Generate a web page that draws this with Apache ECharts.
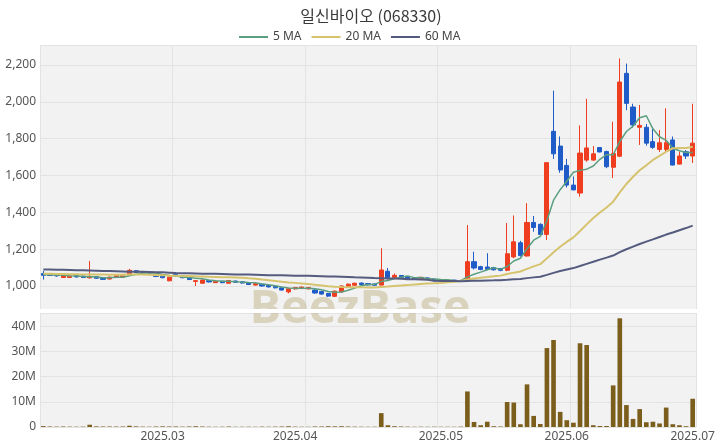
<!DOCTYPE html>
<html><head><meta charset="utf-8">
<script src="https://cdn.jsdelivr.net/npm/echarts@6/dist/echarts.min.js"></script>
<style>html,body{margin:0;padding:0;background:#fff}#c{width:720px;height:448px}</style>
</head><body><div id="c"></div>
<script>
const dates = [
'2025-02-05','2025-02-06','2025-02-07','2025-02-10','2025-02-11','2025-02-12','2025-02-13','2025-02-14','2025-02-17','2025-02-18','2025-02-19','2025-02-20','2025-02-21','2025-02-24','2025-02-25','2025-02-26','2025-02-27','2025-02-28',
'2025-03-04','2025-03-05','2025-03-06','2025-03-07','2025-03-10','2025-03-11','2025-03-12','2025-03-13','2025-03-14','2025-03-17','2025-03-18','2025-03-19','2025-03-20','2025-03-21','2025-03-24','2025-03-25','2025-03-26','2025-03-27','2025-03-28','2025-03-31',
'2025-04-01','2025-04-02','2025-04-03','2025-04-04','2025-04-07','2025-04-08','2025-04-09','2025-04-10','2025-04-11','2025-04-14','2025-04-15','2025-04-16','2025-04-17','2025-04-18','2025-04-21','2025-04-22','2025-04-23','2025-04-24','2025-04-25','2025-04-28','2025-04-29','2025-04-30',
'2025-05-02','2025-05-07','2025-05-08','2025-05-09','2025-05-12','2025-05-13','2025-05-14','2025-05-15','2025-05-16','2025-05-19','2025-05-20','2025-05-21','2025-05-22','2025-05-23','2025-05-26','2025-05-27','2025-05-28','2025-05-29','2025-05-30',
'2025-06-02','2025-06-04','2025-06-05','2025-06-09','2025-06-10','2025-06-11','2025-06-12','2025-06-13','2025-06-16','2025-06-17','2025-06-18','2025-06-19','2025-06-20','2025-06-23','2025-06-24','2025-06-25','2025-06-26','2025-06-27','2025-06-30',
'2025-07-01'];

const opens = [1068,1065,1063,1046,1046,1057,1054,1044,1051,1046,1038,1047,1047,1060,1083,1078,1076,1061,
1055,1028,1062,1053,1043,1025,1015,1029,1018,1026,1015,1027,1023,1017,1005,1010,1003,998,990,968,
984,986,984,978,970,960,944,968,998,1004,1016,1013,1011,1005,1080,1047,1057,1050,1044,1039,1044,1037,
1034,1024,1032,1025,1033,1132,1105,1103,1100,1095,1085,1158,1235,1163,1345,1335,1280,1840,1760,
1655,1548,1505,1684,1684,1752,1730,1645,1705,2155,1972,1862,1862,1784,1742,1742,1793,1662,1729,
1706];
const closes = [1058,1057,1055,1054,1053,1049,1046,1052,1042,1036,1048,1056,1055,1085,1074,1073,1070,1052,
1045,1048,1056,1045,1035,1029,1032,1022,1026,1018,1030,1020,1016,1008,1012,1000,995,990,978,985,
992,994,992,962,956,945,972,1000,1010,1015,1008,1006,1004,1087,1045,1058,1045,1040,1038,1047,1035,1028,
1028,1030,1027,1030,1132,1098,1090,1090,1088,1085,1175,1240,1165,1345,1318,1280,1670,1718,1630,
1548,1522,1722,1750,1718,1728,1648,1720,2108,1992,1875,1872,1776,1753,1778,1778,1657,1706,1706,
1776];
const lows = [1035,1054,1051,1044,1044,1046,1043,1041,1039,1033,1035,1045,1046,1058,1070,1070,1066,1048,
1042,1026,1052,1042,1032,1000,1012,1019,1016,1015,1013,1017,1013,1005,1002,997,992,987,975,960,
981,984,982,958,952,940,940,965,995,1002,1005,1003,1001,1003,1035,1044,1040,1037,1035,1037,1032,1025,
1025,1023,1024,1023,1028,1090,1085,1086,1084,1080,1080,1150,1160,1160,1295,1272,1250,1690,1615,
1535,1520,1485,1675,1680,1726,1640,1586,1700,1955,1860,1766,1762,1745,1728,1730,1655,1660,1690,
1668];
const highs = [1082,1067,1064,1058,1057,1059,1056,1136,1054,1048,1051,1060,1059,1093,1086,1080,1078,1063,
1058,1050,1064,1055,1045,1030,1034,1031,1028,1027,1032,1029,1025,1018,1014,1012,1005,1000,992,990,
995,997,995,982,973,962,975,1003,1013,1018,1018,1015,1013,1205,1098,1068,1060,1052,1046,1049,1047,1040,
1035,1032,1033,1033,1331,1186,1110,1178,1104,1098,1342,1383,1245,1450,1380,1340,1672,2061,1812,
1690,1595,1872,2017,1760,1755,1735,1892,2236,2208,1990,1983,1880,1858,1847,1965,1812,1730,1738,
1990];
// volume in shares
const volumes = [350000,200000,150000,200000,150000,120000,150000,900000,250000,200000,200000,180000,200000,500000,250000,150000,120000,200000,
250000,200000,220000,150000,200000,300000,200000,120000,100000,120000,200000,100000,100000,120000,100000,150000,120000,150000,200000,300000,
150000,100000,100000,200000,200000,300000,250000,300000,200000,150000,120000,100000,120000,5500000,700000,300000,200000,150000,100000,120000,100000,120000,
100000,100000,100000,150000,14100000,2000000,700000,2100000,300000,200000,9900000,9700000,1100000,16900000,4400000,1200000,31300000,34500000,6000000,
2700000,1700000,33200000,32500000,700000,400000,400000,16500000,43100000,8700000,3200000,7100000,1900000,2100000,1400000,7700000,1100000,700000,300000,
11200000];
// moving-average values before a full window exists
const ma5Lead = [1063,1061,1060,1058];
const ma20Lead = [1066,1066,1065,1065,1064,1064,1063,1063,1062,1062,1061,1061,1061,1062,1062,1062,1061,1060,1059];
const ma60Lead = [1090,1089,1088,1088,1087,1086,1085,1084,1083,1082,1081,1080,1079,1078,1077,1077,1076,1075,1074,1072,
1070,1069,1069,1068,1067,1066,1066,1065,1064,1063,1062,1062,1061,1060,1059,1058,1058,1057,1056,1056,
1055,1054,1053,1052,1051,1050,1049,1047,1046,1045,1043,1042,1041,1040,1039,1037,1036,1035,1034];

const priceMin = 875, priceMax = 2309;
const volMax = 45200000;

function movingAverage(n, lead) {
  return closes.map((c, i) => {
    if (i < n - 1) return lead[i];
    let s = 0;
    for (let k = i - n + 1; k <= i; k++) s += closes[k];
    return +(s / n).toFixed(1);
  });
}
const ma5 = movingAverage(5, ma5Lead);
const ma20 = movingAverage(20, ma20Lead);
const ma60 = movingAverage(60, ma60Lead);
const candles = dates.map((d, i) => [opens[i], closes[i], lows[i], highs[i]]);
const monthStart = dates.map((d, i) => i > 0 && d.slice(5, 7) !== dates[i - 1].slice(5, 7));

const UP = '#ee3d1f', DOWN = '#1f5cc8';
const gridBg = '#f2f2f2', lineC = '#e3e3e3';
const FONT = '"Noto Sans", "Noto Sans CJK KR", sans-serif';

const chart = echarts.init(document.getElementById('c'), null, {renderer: 'canvas'});
chart.setOption({
  animation: false,
  backgroundColor: '#fff',
  textStyle: {fontFamily: FONT},
  title: {
    text: '일신바이오 (068330)', left: 366, top: 3, textAlign: 'center',
    textStyle: {fontSize: 16, fontWeight: 'normal', color: '#3a3a3a', fontFamily: '"Noto Sans CJK KR", sans-serif'}
  },
  legend: {
    top: 26, left: 234, icon: 'rect', itemWidth: 29, itemHeight: 2, itemGap: 10,
    textStyle: {fontSize: 12, color: '#444'},
    data: ['5 MA', '20 MA', '60 MA']
  },
  grid: [
    {left: 40, right: 24, top: 45, height: 264, show: true, backgroundColor: gridBg, borderWidth: 0},
    {left: 40, right: 24, top: 313, height: 114, show: true, backgroundColor: gridBg, borderWidth: 0}
  ],
  graphic: [
    {type: 'text', left: 'center', top: 286, z: 1, silent: true,
     style: {text: 'BeezBase', fontSize: 47, fontWeight: 'bold', fontFamily: '"Open Sans", sans-serif', fill: 'rgba(196,186,146,0.55)'}},
    {type: 'rect', z: 1, silent: true, shape: {x: 40, y: 309, width: 656, height: 4}, style: {fill: '#fff'}}
  ],
  xAxis: [
    {type: 'category', gridIndex: 0, data: dates, boundaryGap: true,
     axisLine: {show: false}, axisTick: {show: false}, axisLabel: {show: false},
     splitLine: {show: true, interval: (i) => i % 20 === 0, lineStyle: {color: lineC, width: 1}}},
    {type: 'category', gridIndex: 1, data: dates, boundaryGap: true,
     axisLine: {show: false}, axisTick: {show: false},
     axisLabel: {interval: (i) => monthStart[i], formatter: (v) => v.slice(0, 4) + '.' + v.slice(5, 7),
                 fontSize: 12, color: '#555', margin: 4},
     splitLine: {show: true, interval: (i) => i % 20 === 0, lineStyle: {color: lineC, width: 1}}}
  ],
  yAxis: [
    {type: 'value', gridIndex: 0, min: priceMin, max: priceMax, minInterval: 200, maxInterval: 200,
     axisLine: {show: false}, axisTick: {show: false},
     axisLabel: {showMinLabel: false, showMaxLabel: false, fontSize: 12, color: '#555', margin: 4,
                 formatter: (v) => v.toLocaleString('en-US')},
     splitLine: {lineStyle: {color: lineC}}},
    {type: 'value', gridIndex: 1, min: 0, max: volMax, interval: 10000000,
     axisLine: {show: false}, axisTick: {show: false},
     axisLabel: {showMaxLabel: false, fontSize: 12, color: '#555', margin: 4,
                 formatter: (v) => v === 0 ? '0' : (v / 1000000) + 'M'},
     splitLine: {lineStyle: {color: lineC}}}
  ],
  series: [
    {type: 'candlestick', name: 'price', xAxisIndex: 0, yAxisIndex: 0, data: candles, barWidth: '70%', z: 3,
     itemStyle: {color: UP, color0: DOWN, borderColor: UP, borderColor0: DOWN, borderWidth: 1}},
    {type: 'line', name: '5 MA', xAxisIndex: 0, yAxisIndex: 0, data: ma5, symbol: 'none', z: 4,
     lineStyle: {color: '#5b9f80', width: 1.5}, itemStyle: {color: '#5b9f80'}},
    {type: 'line', name: '20 MA', xAxisIndex: 0, yAxisIndex: 0, data: ma20, symbol: 'none', z: 4,
     lineStyle: {color: '#d6c36e', width: 2}, itemStyle: {color: '#d6c36e'}},
    {type: 'line', name: '60 MA', xAxisIndex: 0, yAxisIndex: 0, data: ma60, symbol: 'none', z: 4,
     lineStyle: {color: '#555b7e', width: 2}, itemStyle: {color: '#555b7e'}},
    {type: 'bar', name: 'volume', xAxisIndex: 1, yAxisIndex: 1, data: volumes, barWidth: '70%', z: 3,
     itemStyle: {color: '#7b5e1c'}}
  ]
});
</script></body></html>
